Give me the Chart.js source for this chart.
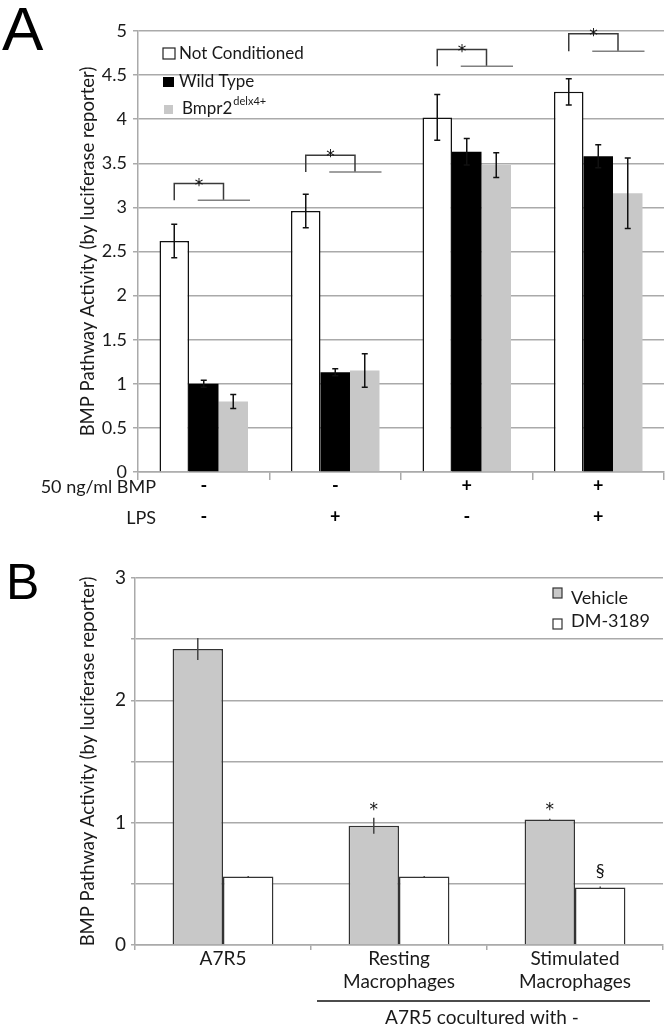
<!DOCTYPE html>
<html>
<head>
<meta charset="utf-8">
<script src="https://cdn.jsdelivr.net/npm/chart.js@4"></script>
<style>
  html, body { margin: 0; padding: 0; background: #fff; }
  #wrap { position: relative; width: 672px; height: 1034px; }
  #wrap canvas { position: absolute; left: 0; }
  #chartA { top: 0; }
  #chartB { top: 540px; }
</style>
</head>
<body>
<div id="wrap">
  <canvas id="chartA" width="672" height="540"></canvas>
  <canvas id="chartB" width="672" height="494"></canvas>
</div>
<script>
// Panel A - BMP pathway activity, conditioned media
const bmpRow = ['-', '-', '+', '+'];
const lpsRow = ['-', '+', '-', '+'];
const notConditioned = [2.62, 2.96, 4.02, 4.31];
const notConditionedErr = [0.19, 0.19, 0.26, 0.15];
const wildType = [1.00, 1.13, 3.63, 3.58];
const wildTypeErr = [0.04, 0.04, 0.15, 0.13];
const bmpr2 = [0.80, 1.15, 3.48, 3.16];
const bmpr2Err = [0.08, 0.19, 0.14, 0.40];
const bracketTop = [3.27, 3.59, 4.79, 4.97];
const bracketBase = [3.08, 3.40, 4.60, 4.77];

// Panel B - DM-3189 treatment
const groupsB = [['A7R5'], ['Resting', 'Macrophages'], ['Stimulated', 'Macrophages']];
const vehicle = [2.42, 0.975, 1.025];
const vehicleErr = [0.09, 0.065, 0.008];
const dm3189 = [0.56, 0.56, 0.47];
const dm3189Err = [0.004, 0.004, 0.008];
const vehicleMarks = ['', '*', '*'];
const dmMarks = ['', '', '§'];

const FONT = 'Lato, "Open Sans", sans-serif';
const GRID = '#aaaaaa';
const TXT = '#1a1a1a';

// error bars from dataset.errors
const errorBars = {
    id: 'errorBars',
    afterDatasetsDraw(chart) {
        const ctx = chart.ctx;
        const y = chart.scales.y;
        chart.data.datasets.forEach((ds, i) => {
            if (!ds.errors) return;
            const meta = chart.getDatasetMeta(i);
            meta.data.forEach((bar, j) => {
                const v = ds.data[j], e = ds.errors[j];
                const top = y.getPixelForValue(v + e);
                const bot = y.getPixelForValue(v - e);
                ctx.save();
                ctx.strokeStyle = ds.errColor || '#111';
                ctx.lineWidth = 1.5;
                ctx.beginPath();
                ctx.moveTo(bar.x, top); ctx.lineTo(bar.x, bot);
                if (ds.errCap) {
                    ctx.moveTo(bar.x - ds.errCap, top); ctx.lineTo(bar.x + ds.errCap, top);
                    ctx.moveTo(bar.x - ds.errCap, bot); ctx.lineTo(bar.x + ds.errCap, bot);
                }
                ctx.stroke();
                ctx.restore();
            });
        });
    }
};

// significance brackets, legend, row titles, panel letter for A
const panelA = {
    id: 'panelA',
    afterDraw(chart) {
        const ctx = chart.ctx;
        const y = chart.scales.y;
        const x = chart.scales.x;
        const nc = chart.getDatasetMeta(0).data;
        const wt = chart.getDatasetMeta(1).data;
        const gr = chart.getDatasetMeta(2).data;
        ctx.save();
        for (let i = 0; i < nc.length; i++) {
            const yt = y.getPixelForValue(bracketTop[i]);
            const yb = y.getPixelForValue(bracketBase[i]);
            const xl = nc[i].x;
            const xr = wt[i].x + wt[i].width / 2 + 5;
            ctx.strokeStyle = '#3a3a3a';
            ctx.lineWidth = 1.5;
            ctx.beginPath();
            ctx.moveTo(xl, yb); ctx.lineTo(xl, yt); ctx.lineTo(xr, yt); ctx.lineTo(xr, yb);
            ctx.stroke();
            ctx.strokeStyle = '#808080';
            ctx.beginPath();
            ctx.moveTo(wt[i].x - 6, yb); ctx.lineTo(gr[i].x + gr[i].width / 2 + 2, yb);
            ctx.stroke();
            ctx.fillStyle = '#111';
            ctx.font = '17px "DejaVu Sans", sans-serif';
            ctx.textAlign = 'center';
            ctx.textBaseline = 'alphabetic';
            ctx.fillText('*', (xl + xr) / 2, yt + 7);
        }

        // legend
        ctx.textAlign = 'left';
        ctx.textBaseline = 'middle';
        ctx.font = '17px ' + FONT;
        ctx.lineWidth = 1.2;
        ctx.strokeStyle = '#222';
        ctx.fillStyle = '#fff';
        ctx.fillRect(163, 48, 12, 11); ctx.strokeRect(163, 48, 12, 11);
        ctx.fillStyle = '#000';
        ctx.fillRect(163, 77, 11, 10);
        ctx.fillStyle = '#c8c8c8';
        ctx.fillRect(164, 105, 9, 9);
        ctx.fillStyle = TXT;
        ctx.fillText('Not Conditioned', 179, 54);
        ctx.fillText('Wild Type', 179, 82);
        ctx.fillText('Bmpr2', 182, 109);
        const w = ctx.measureText('Bmpr2').width;
        ctx.font = '11px ' + FONT;
        ctx.fillText('delx4+', 182 + w + 1, 101);

        // row titles for the x tick rows
        ctx.font = '18px ' + FONT;
        ctx.textAlign = 'right';
        ctx.fillText('50 ng/ml BMP', 156, x.top + 15);
        ctx.fillText('LPS', 156, x.top + 46);

        // panel letter
        ctx.font = '62px "Liberation Sans", Arial, sans-serif';
        ctx.textAlign = 'left';
        ctx.textBaseline = 'alphabetic';
        ctx.fillStyle = '#000';
        ctx.fillText('A', 2, 50);
        ctx.restore();
    }
};

const panelB = {
    id: 'panelB',
    afterDraw(chart) {
        const ctx = chart.ctx;
        const y = chart.scales.y;
        ctx.save();
        // marks above bars
        const marks = [[0, vehicleMarks, vehicleErr], [1, dmMarks, dm3189Err]];
        marks.forEach(([di, labels, errs]) => {
            const ds = chart.data.datasets[di];
            chart.getDatasetMeta(di).data.forEach((bar, j) => {
                if (!labels[j]) return;
                ctx.fillStyle = '#111';
                ctx.textAlign = 'center';
                ctx.textBaseline = 'alphabetic';
                const top = y.getPixelForValue(ds.data[j] + errs[j]);
                if (labels[j] === '*') {
                    ctx.font = '17px "DejaVu Sans", sans-serif';
                    ctx.fillText('*', bar.x, 275);
                } else {
                    ctx.font = '18px ' + FONT;
                    ctx.fillText(labels[j], bar.x, top - 10);
                }
            });
        });

        // legend
        ctx.lineWidth = 1.2;
        ctx.strokeStyle = '#333';
        ctx.fillStyle = '#c8c8c8';
        ctx.fillRect(553, 48, 9, 10); ctx.strokeRect(553, 48, 9, 10);
        ctx.fillStyle = '#fff';
        ctx.fillRect(553, 79, 9, 10); ctx.strokeRect(553, 79, 9, 10);
        ctx.fillStyle = TXT;
        ctx.font = '18px ' + FONT;
        ctx.textAlign = 'left';
        ctx.textBaseline = 'middle';
        ctx.fillText('Vehicle', 571, 58);
        ctx.fillText('DM-3189', 571, 81);

        // coculture group line and caption
        ctx.strokeStyle = '#111';
        ctx.lineWidth = 1.3;
        ctx.beginPath();
        ctx.moveTo(317, 461); ctx.lineTo(650, 461);
        ctx.stroke();
        ctx.textAlign = 'center';
        ctx.font = '19px ' + FONT;
        ctx.fillText('A7R5 cocultured with -', 482, 478);

        ctx.font = '50px "Liberation Sans", Arial, sans-serif';
        ctx.textAlign = 'left';
        ctx.textBaseline = 'alphabetic';
        ctx.fillStyle = '#000';
        ctx.fillText('B', 6, 59);
        ctx.restore();
    }
};

new Chart(document.getElementById('chartA'), {
    type: 'bar',
    data: {
        labels: bmpRow.map((b, i) => [b, lpsRow[i]]),
        datasets: [
            { label: 'Not Conditioned', data: notConditioned, errors: notConditionedErr, errCap: 3,
              backgroundColor: '#ffffff', borderColor: '#111', borderWidth: 1.5 },
            { label: 'Wild Type', data: wildType, errors: wildTypeErr, errCap: 3,
              backgroundColor: '#000000', borderWidth: 0 },
            { label: 'Bmpr2 delx4+', data: bmpr2, errors: bmpr2Err, errCap: 3,
              backgroundColor: '#c8c8c8', borderWidth: 0 }
        ]
    },
    options: {
        responsive: false,
        animation: false,
        layout: { padding: { top: 31, right: 8, left: 0, bottom: 0 } },
        categoryPercentage: 0.673,
        barPercentage: 1,
        plugins: { legend: { display: false }, tooltip: { enabled: false } },
        scales: {
            x: {
                afterFit: s => { s.height = 68; },
                grid: { drawOnChartArea: false, drawTicks: true, tickLength: 8, color: GRID, lineWidth: 1.5 },
                border: { color: GRID, width: 1.5 },
                ticks: { color: '#000', padding: -9, font: { family: FONT, size: 18, weight: 'bold', lineHeight: '31px' } }
            },
            y: {
                min: 0, max: 5,
                afterFit: s => { s.width = 138; },
                grid: { color: GRID, lineWidth: 1.5, tickLength: 5 },
                border: { color: GRID, width: 1.5 },
                ticks: { stepSize: 0.5, color: TXT, padding: 6, font: { family: FONT, size: 18 },
                         callback: v => String(Math.round(v * 10) / 10) },
                title: { display: true, text: 'BMP Pathway Activity (by luciferase reporter)', color: TXT,
                         padding: { top: 77, bottom: 0 }, font: { family: FONT, size: 18.5 } }
            }
        }
    },
    plugins: [errorBars, panelA]
});

new Chart(document.getElementById('chartB'), {
    type: 'bar',
    data: {
        labels: groupsB,
        datasets: [
            { label: 'Vehicle', data: vehicle, errors: vehicleErr, errCap: 0, errColor: '#444',
              backgroundColor: '#c8c8c8', borderColor: '#333', borderWidth: 1.5 },
            { label: 'DM-3189', data: dm3189, errors: dm3189Err, errCap: 0, errColor: '#444',
              backgroundColor: '#ffffff', borderColor: '#333', borderWidth: 1.5 }
        ]
    },
    options: {
        responsive: false,
        animation: false,
        layout: { padding: { top: 38, right: 9, left: 0, bottom: 0 } },
        categoryPercentage: 0.573,
        barPercentage: 1,
        plugins: { legend: { display: false }, tooltip: { enabled: false } },
        scales: {
            x: {
                afterFit: s => { s.height = 89; },
                grid: { drawOnChartArea: false, drawTicks: true, tickLength: 5, color: GRID, lineWidth: 1.5 },
                border: { color: GRID, width: 1.5 },
                ticks: { color: TXT, padding: -3, font: { family: FONT, size: 19, lineHeight: '23.5px' } }
            },
            y: {
                min: 0, max: 3,
                afterFit: s => { s.width = 135; },
                grid: { color: GRID, lineWidth: 1.5, tickLength: 4 },
                border: { color: GRID, width: 1.5 },
                ticks: { stepSize: 0.5, color: TXT, padding: 5, font: { family: FONT, size: 19 },
                         callback: v => Number.isInteger(v) ? String(v) : '' },
                title: { display: true, text: 'BMP Pathway Activity (by luciferase reporter)', color: TXT,
                         padding: { top: 77, bottom: 0 }, font: { family: FONT, size: 18.5 } }
            }
        }
    },
    plugins: [errorBars, panelB]
});
</script>
</body>
</html>
